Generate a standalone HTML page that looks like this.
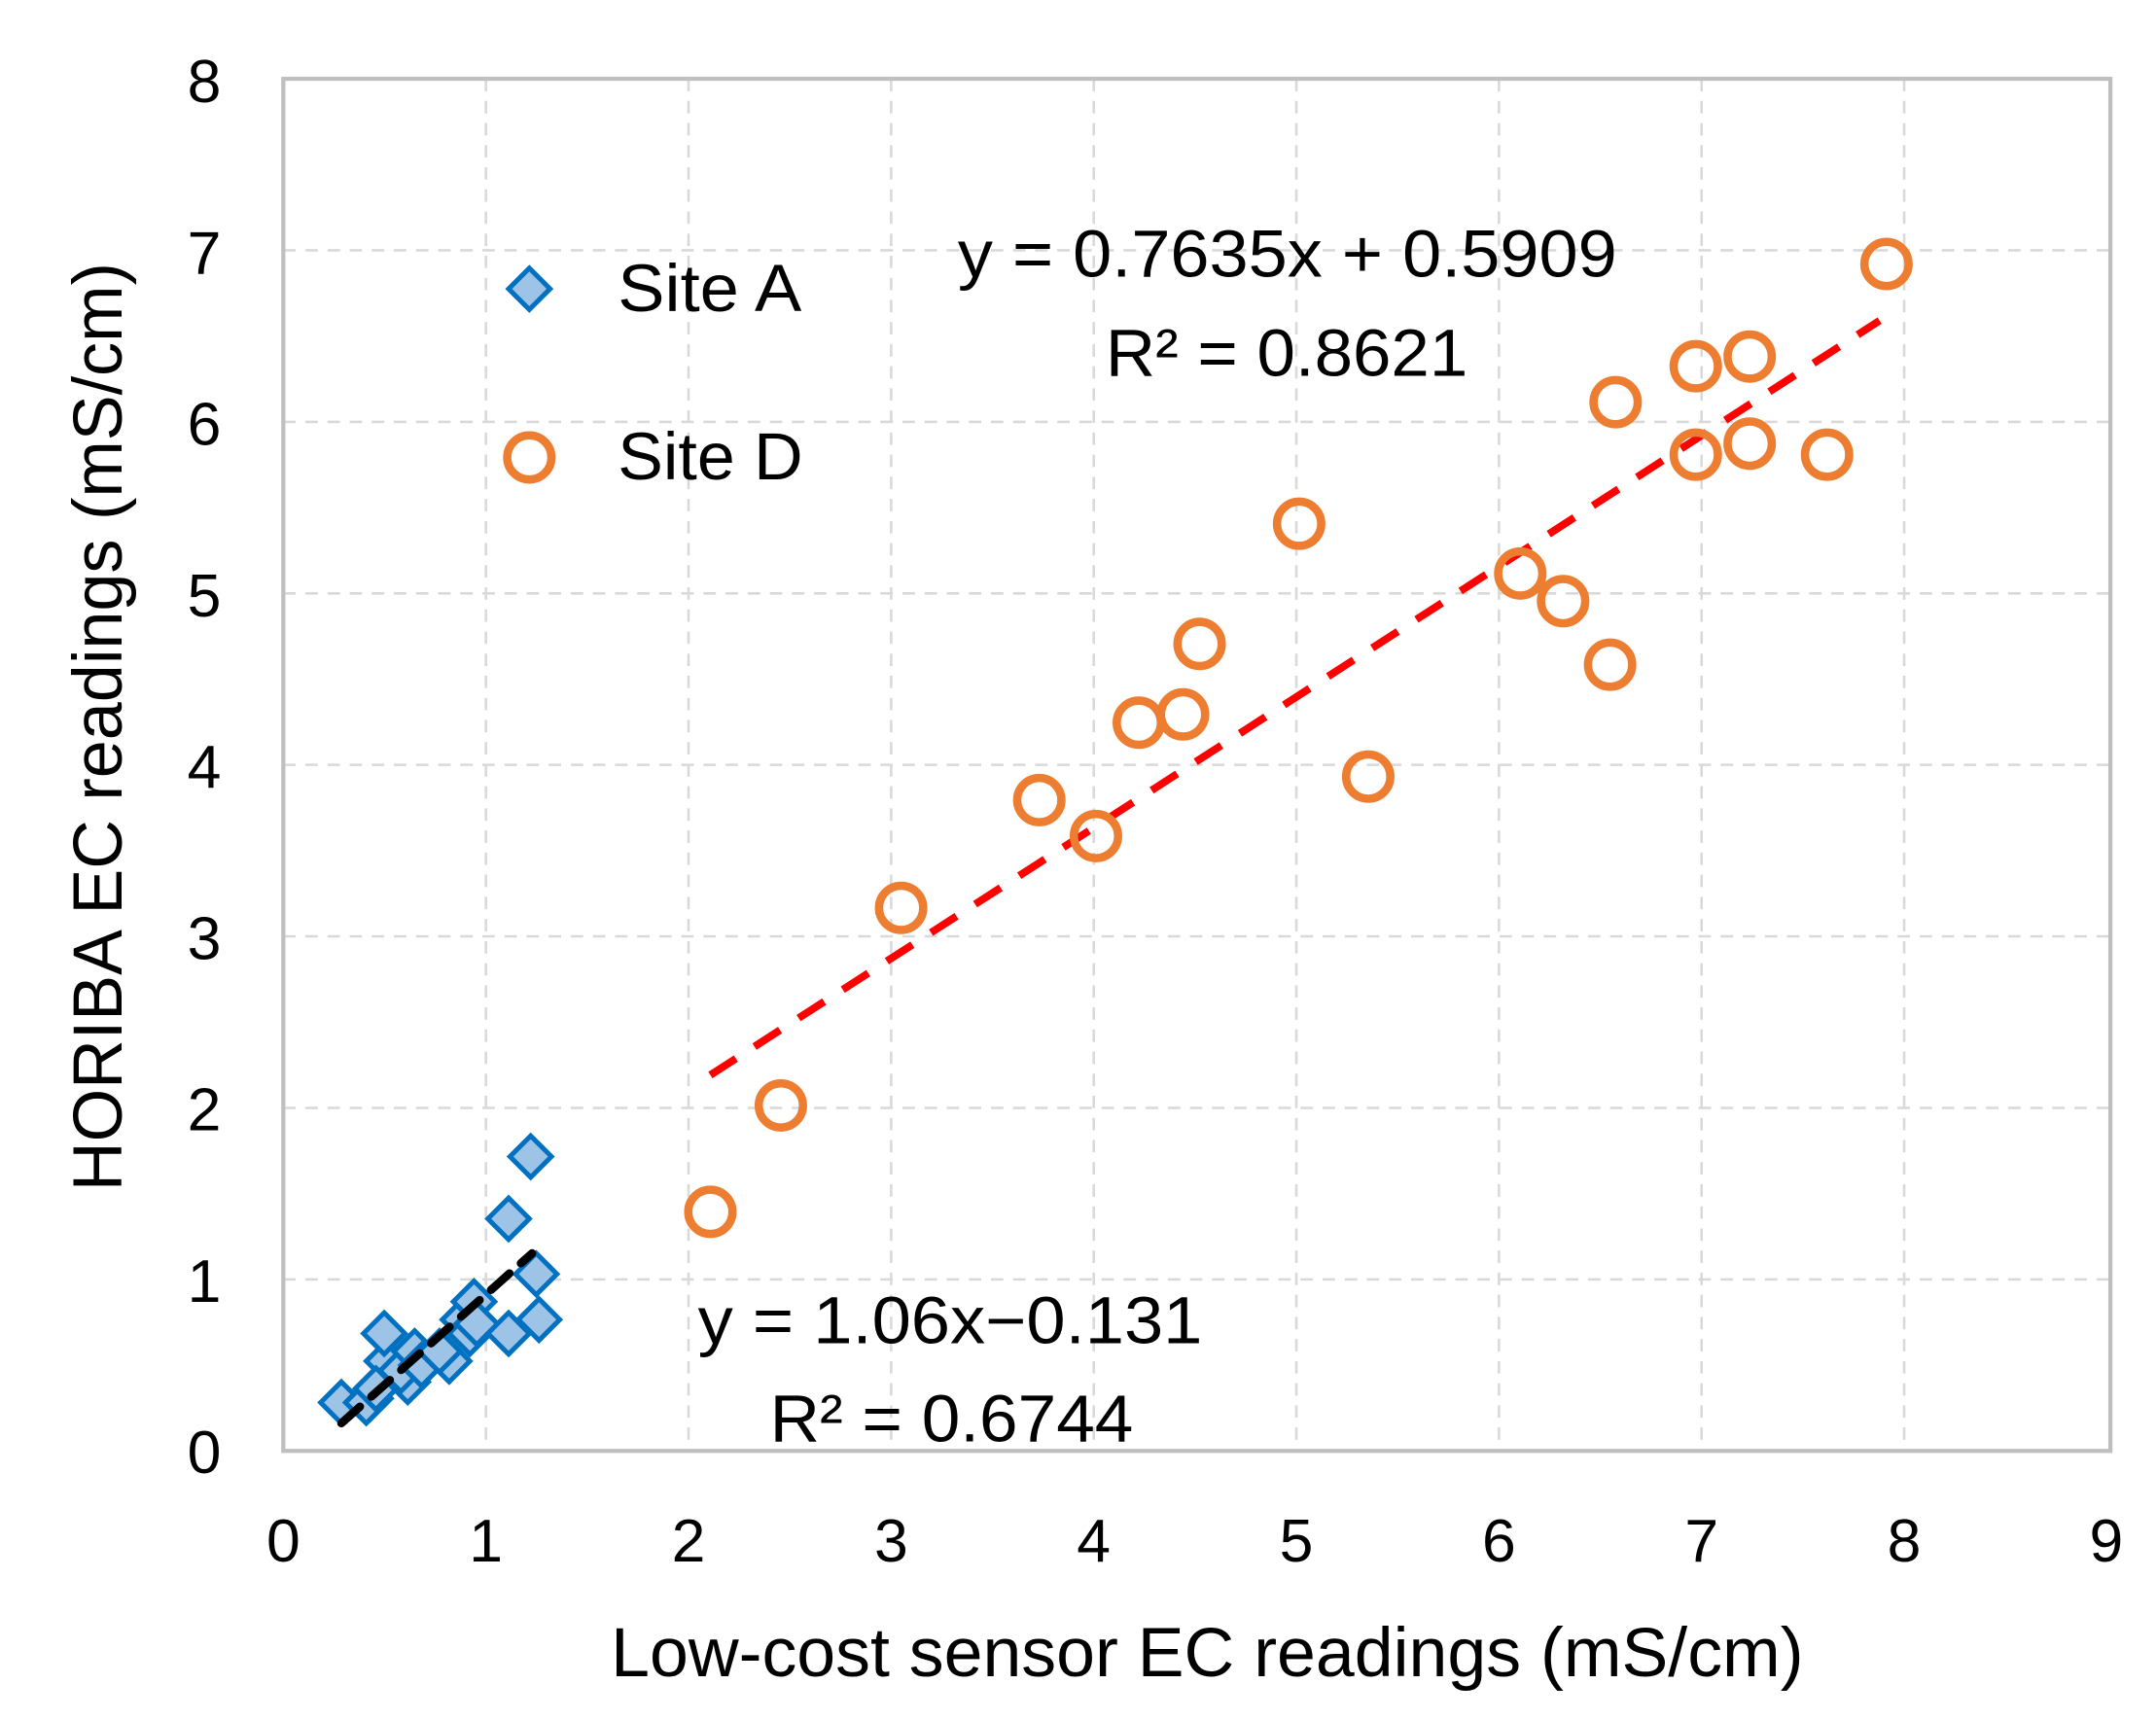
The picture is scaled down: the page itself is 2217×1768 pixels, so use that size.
<!DOCTYPE html>
<html><head><meta charset="utf-8"><style>html,body{margin:0;padding:0;background:#fff}svg{display:block}</style></head>
<body>
<svg width="2217" height="1768" viewBox="0 0 1560 1244" xmlns="http://www.w3.org/2000/svg" font-family="Liberation Sans, sans-serif">
<rect width="1560" height="1244" fill="#fff"/>
<g stroke="#D9D9D9" stroke-width="1.8" stroke-dasharray="9,7">
<line x1="351.6" y1="57" x2="351.6" y2="1050"/><line x1="498.2" y1="57" x2="498.2" y2="1050"/><line x1="644.8" y1="57" x2="644.8" y2="1050"/><line x1="791.4" y1="57" x2="791.4" y2="1050"/><line x1="938" y1="57" x2="938" y2="1050"/><line x1="1084.6" y1="57" x2="1084.6" y2="1050"/><line x1="1231.2" y1="57" x2="1231.2" y2="1050"/><line x1="1377.8" y1="57" x2="1377.8" y2="1050"/>
<line x1="205" y1="925.9" x2="1527" y2="925.9"/><line x1="205" y1="801.8" x2="1527" y2="801.8"/><line x1="205" y1="677.6" x2="1527" y2="677.6"/><line x1="205" y1="553.5" x2="1527" y2="553.5"/><line x1="205" y1="429.4" x2="1527" y2="429.4"/><line x1="205" y1="305.3" x2="1527" y2="305.3"/><line x1="205" y1="181.1" x2="1527" y2="181.1"/>
</g>
<rect x="205" y="57" width="1322" height="993" fill="none" stroke="#BFBFBF" stroke-width="3"/>
<g font-size="44" fill="#000" text-anchor="end">
<text x="160" y="1066">0</text><text x="160" y="942">1</text><text x="160" y="818">2</text><text x="160" y="694">3</text><text x="160" y="570">4</text><text x="160" y="446">5</text><text x="160" y="322">6</text><text x="160" y="198">7</text><text x="160" y="74">8</text>
</g>
<g font-size="44" fill="#000" text-anchor="middle">
<text x="205" y="1130">0</text><text x="351.6" y="1130">1</text><text x="498.2" y="1130">2</text><text x="644.8" y="1130">3</text><text x="791.4" y="1130">4</text><text x="938" y="1130">5</text><text x="1084.6" y="1130">6</text><text x="1231.2" y="1130">7</text><text x="1377.8" y="1130">8</text><text x="1524" y="1130">9</text>
</g>
<text x="442" y="1213" font-size="50" textLength="863" lengthAdjust="spacingAndGlyphs">Low-cost sensor EC readings (mS/cm)</text>
<text transform="translate(88,862) rotate(-90)" font-size="50" textLength="672" lengthAdjust="spacingAndGlyphs">HORIBA EC readings (mS/cm)</text>
<g fill="#9DC3E6" stroke="#0070C0" stroke-width="3.5">
<path d="M0,-15 L15,0 L0,15 L-15,0Z" transform="translate(247,1015)"/>
<path d="M0,-15 L15,0 L0,15 L-15,0Z" transform="translate(268,1012)"/>
<path d="M0,-15 L15,0 L0,15 L-15,0Z" transform="translate(265,1015)"/>
<path d="M0,-15 L15,0 L0,15 L-15,0Z" transform="translate(280,985)"/>
<path d="M0,-15 L15,0 L0,15 L-15,0Z" transform="translate(278,965)"/>
<path d="M0,-15 L15,0 L0,15 L-15,0Z" transform="translate(272,1005)"/>
<path d="M0,-15 L15,0 L0,15 L-15,0Z" transform="translate(295,1000)"/>
<path d="M0,-15 L15,0 L0,15 L-15,0Z" transform="translate(290,992)"/>
<path d="M0,-15 L15,0 L0,15 L-15,0Z" transform="translate(300,978)"/>
<path d="M0,-15 L15,0 L0,15 L-15,0Z" transform="translate(305,988)"/>
<path d="M0,-15 L15,0 L0,15 L-15,0Z" transform="translate(325,985)"/>
<path d="M0,-15 L15,0 L0,15 L-15,0Z" transform="translate(318,978)"/>
<path d="M0,-15 L15,0 L0,15 L-15,0Z" transform="translate(335,955)"/>
<path d="M0,-15 L15,0 L0,15 L-15,0Z" transform="translate(340,965)"/>
<path d="M0,-15 L15,0 L0,15 L-15,0Z" transform="translate(343,942)"/>
<path d="M0,-15 L15,0 L0,15 L-15,0Z" transform="translate(345,958)"/>
<path d="M0,-15 L15,0 L0,15 L-15,0Z" transform="translate(368,965)"/>
<path d="M0,-15 L15,0 L0,15 L-15,0Z" transform="translate(390,955)"/>
<path d="M0,-15 L15,0 L0,15 L-15,0Z" transform="translate(388,922)"/>
<path d="M0,-15 L15,0 L0,15 L-15,0Z" transform="translate(368,882)"/>
<path d="M0,-15 L15,0 L0,15 L-15,0Z" transform="translate(384,837)"/>
<path d="M0,-15 L15,0 L0,15 L-15,0Z" transform="translate(383,209)"/>
</g>
<line x1="247" y1="1030" x2="385" y2="907" stroke="#000" stroke-width="6" stroke-dasharray="18,11" stroke-linecap="round"/>
<line x1="514" y1="778" x2="1360" y2="232" stroke="#FF0000" stroke-width="5.5" stroke-dasharray="22,16"/>
<g fill="none" stroke="#ED7D31" stroke-width="6">
<circle cx="514" cy="877" r="16"/><circle cx="565" cy="800" r="16"/><circle cx="652" cy="657" r="16"/><circle cx="752" cy="579" r="16"/><circle cx="793" cy="605" r="16"/><circle cx="824" cy="523" r="16"/><circle cx="856" cy="517" r="16"/><circle cx="868" cy="466" r="16"/><circle cx="940" cy="379" r="16"/><circle cx="990" cy="562" r="16"/><circle cx="1100" cy="415" r="16"/><circle cx="1131" cy="435" r="16"/><circle cx="1165" cy="481" r="16"/><circle cx="1169" cy="291" r="16"/><circle cx="1227" cy="265" r="16"/><circle cx="1227" cy="329" r="16"/><circle cx="1266" cy="258" r="16"/><circle cx="1266" cy="321" r="16"/><circle cx="1322" cy="329" r="16"/><circle cx="1365" cy="191" r="16"/>
<circle cx="383" cy="331" r="16"/>
</g>
<g font-size="48" fill="#000">
<text x="447" y="225" textLength="133" lengthAdjust="spacingAndGlyphs">Site A</text>
<text x="447" y="347" textLength="134" lengthAdjust="spacingAndGlyphs">Site D</text>
<text x="693" y="200" textLength="477" lengthAdjust="spacingAndGlyphs">y = 0.7635x + 0.5909</text>
<text x="800" y="272" textLength="262" lengthAdjust="spacingAndGlyphs">R² = 0.8621</text>
<text x="505" y="972" textLength="365" lengthAdjust="spacingAndGlyphs">y = 1.06x−0.131</text>
<text x="557" y="1043" textLength="263" lengthAdjust="spacingAndGlyphs">R² = 0.6744</text>
</g>
</svg>
</body></html>
